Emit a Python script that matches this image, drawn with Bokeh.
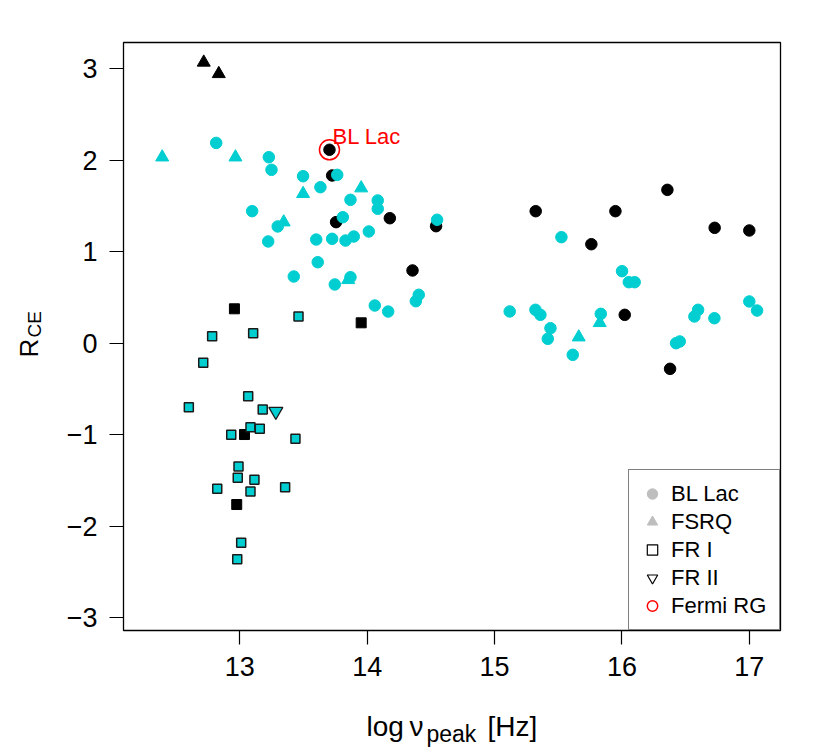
import math
from bokeh.plotting import figure
from bokeh.models import FixedTicker, Label, Legend, LegendItem, Range1d
from bokeh.embed import file_html
from bokeh.resources import INLINE
from bokeh.core.properties import value

# ---------------- data ----------------
# BL Lac, cyan circles
bl_cyan_x = [12.815, 13.228, 13.249, 13.497, 13.633, 13.765, 13.869, 14.083, 14.083,
             13.097, 13.809, 14.549, 13.298, 13.223, 13.600, 13.725, 13.830, 13.895,
             14.013, 13.612, 13.424, 13.746, 13.869, 14.060, 14.165, 14.405, 14.382,
             15.525, 16.001, 16.054, 16.100, 15.119, 15.321, 15.360, 15.439, 15.418,
             15.614, 15.834, 16.598, 16.569, 16.726, 17.000, 17.061, 16.454, 16.425]
bl_cyan_y = [2.190, 2.034, 1.896, 1.826, 1.706, 1.841, 1.568, 1.561, 1.470,
             1.444, 1.378, 1.350, 1.277, 1.113, 1.134, 1.142, 1.123, 1.167,
             1.222, 0.886, 0.730, 0.643, 0.723, 0.413, 0.347, 0.530, 0.460,
             1.160, 0.788, 0.668, 0.668, 0.348, 0.366, 0.311, 0.165, 0.049,
             -0.126, 0.322, 0.366, 0.293, 0.274, 0.457, 0.358, 0.020, 0.001]
# BL Lac, black circles
bl_black_x = [13.704, 13.725, 13.756, 14.178, 14.541, 14.356, 15.323, 15.949,
              16.357, 15.760, 16.728, 17.000, 16.022, 16.378]
bl_black_y = [2.115, 1.834, 1.324, 1.367, 1.280, 0.796, 1.444, 1.444,
              1.677, 1.083, 1.262, 1.233, 0.311, -0.279]
# FSRQ
fsrq_black_x = [12.717, 12.835]
fsrq_black_y = [3.070, 2.945]
fsrq_cyan_x = [12.391, 12.966, 13.497, 13.345, 13.953, 13.851, 15.661, 15.826]
fsrq_cyan_y = [2.034, 2.034, 1.634, 1.324, 1.696, 0.694, 0.067, 0.224]
# FR I
fr1_cyan_x = [13.461, 12.783, 13.105, 12.713, 13.066, 12.600, 13.180, 13.084, 13.157,
              12.933, 13.437, 12.990, 12.984, 13.115, 12.823, 13.084, 13.356, 13.011, 12.980]
fr1_cyan_y = [0.293, 0.078, 0.110, -0.213, -0.578, -0.698, -0.723, -0.917, -0.935,
              -1.000, -1.044, -1.346, -1.470, -1.492, -1.590, -1.620, -1.572, -2.180, -2.360]
fr1_black_x = [12.958, 13.953, 13.037, 12.976]
fr1_black_y = [0.377, 0.224, -0.997, -1.762]
# FR II
fr2_cyan_x = [13.283]
fr2_cyan_y = [-0.745]
# Fermi RG
fermi_x = [13.704]
fermi_y = [2.115]
fermi_label = ["BL Lac"]

x_ticks = [13, 14, 15, 16, 17]
y_ticks = [-3, -2, -1, 0, 1, 2, 3]
legend_labels = ["BL Lac", "FSRQ", "FR I", "FR II", "Fermi RG"]

CYAN = "#00CED1"
GRAY = "#BEBEBE"
FONT = "Liberation Sans"
NAN = [float("nan")]

W, H = 816, 754
FL, FR, FT, FB = 123, 780, 42, 630   # frame edges in canvas px

p = figure(width=W, height=H, output_backend="svg", toolbar_location=None,
           x_range=Range1d(12.0871, 17.2449), y_range=Range1d(-3.1388, 3.2874),
           min_border_left=FL, min_border_right=W - FR,
           min_border_top=FT, min_border_bottom=H - FB)
p.grid.visible = False
p.outline_line_color = "black"
p.outline_line_width = 1.3
p.background_fill_color = "white"
p.border_fill_color = "white"

for ax, ticks in ((p.xaxis, x_ticks), (p.yaxis, y_ticks)):
    ax.ticker = FixedTicker(ticks=ticks)
    ax.axis_line_color = None
    ax.major_tick_line_color = "black"
    ax.major_tick_line_width = 1.2
    ax.major_tick_in = 0
    ax.major_tick_out = 14
    ax.minor_tick_line_color = None
    ax.major_label_text_font = FONT
    ax.major_label_text_font_size = "27px"
    ax.major_label_text_color = "black"
p.xaxis.major_label_standoff = 12
p.yaxis.major_label_standoff = 12
p.yaxis.major_label_overrides = {t: (str(t) if t >= 0 else "\u2212" + str(-t)) for t in y_ticks}

# ---------------- points ----------------
p.scatter(fsrq_black_x, fsrq_black_y, marker="triangle", size=13, color="black")
p.scatter(fsrq_cyan_x, fsrq_cyan_y, marker="triangle", size=13, color=CYAN)
p.scatter(fr1_black_x, fr1_black_y, marker="square", size=10, color="black")
p.scatter(fr1_cyan_x, fr1_cyan_y, marker="square", size=9, fill_color=CYAN,
          line_color="#1a1a1a", line_width=1.5)
p.scatter(fr2_cyan_x, fr2_cyan_y, marker="inverted_triangle", size=14, fill_color=CYAN,
          line_color="#1a1a1a", line_width=1.3)
p.scatter(bl_black_x, bl_black_y, marker="circle", size=11.5, color="black")
p.scatter(bl_cyan_x, bl_cyan_y, marker="circle", size=11.5, color=CYAN)
p.scatter(fermi_x, fermi_y, marker="circle", size=20, fill_color=None,
          line_color="red", line_width=1.5)
p.text(fermi_x, fermi_y, text=fermi_label, x_offset=3, y_offset=-13,
       text_font=value(FONT), text_font_size="22px", text_color="red",
       text_baseline="alphabetic", text_align="left")

# ---------------- legend (key glyphs only, no plotted data) ----------------
l1 = p.scatter(NAN, NAN, marker="circle", color=GRAY)
l2 = p.scatter(NAN, NAN, marker="triangle", color=GRAY)
l3 = p.scatter(NAN, NAN, marker="square", fill_color=None, line_color="black", line_width=1.2)
l4 = p.scatter(NAN, NAN, marker="inverted_triangle", fill_color=None, line_color="black", line_width=1.2)
l5 = p.scatter(NAN, NAN, marker="circle", fill_color=None, line_color="red", line_width=1.5)
legend = Legend(items=[LegendItem(label=lab, renderers=[r])
                       for lab, r in zip(legend_labels, [l1, l2, l3, l4, l5])],
                location="bottom_right", margin=0, padding=10, spacing=1,
                glyph_width=26, glyph_height=27, label_standoff=6, label_width=98,
                label_text_font=FONT, label_text_font_size="22px", label_text_color="black",
                border_line_color="black", border_line_width=1.3,
                background_fill_color="white", background_fill_alpha=1)
p.add_layout(legend)


# ---------------- axis titles (placed in side panels so they are not clipped) ----------------
def title(text, px, py, size, side, angle=0.0):
    kw = dict(text=text, text_font=FONT, text_font_size=size, angle=angle,
              text_align="left", text_baseline="alphabetic", text_color="black")
    try:
        lab = Label(x=px, y=py, x_units="canvas", y_units="canvas", **kw)
    except Exception:
        lab = Label(x=px, y=H - py, x_units="screen", y_units="screen", **kw)
    p.add_layout(lab, side)


title("log\u2009\u03bd", 366, 726, "28px", "below")
title("peak", 426, 733, "23px", "below")
title("[Hz]", 487, 726, "28px", "above")
title("R", 28, 357, "26px", "left", math.pi / 2)
title("CE", 34, 337, "19px", "left", math.pi / 2)

open("out.html", "w").write(file_html(p, INLINE))
